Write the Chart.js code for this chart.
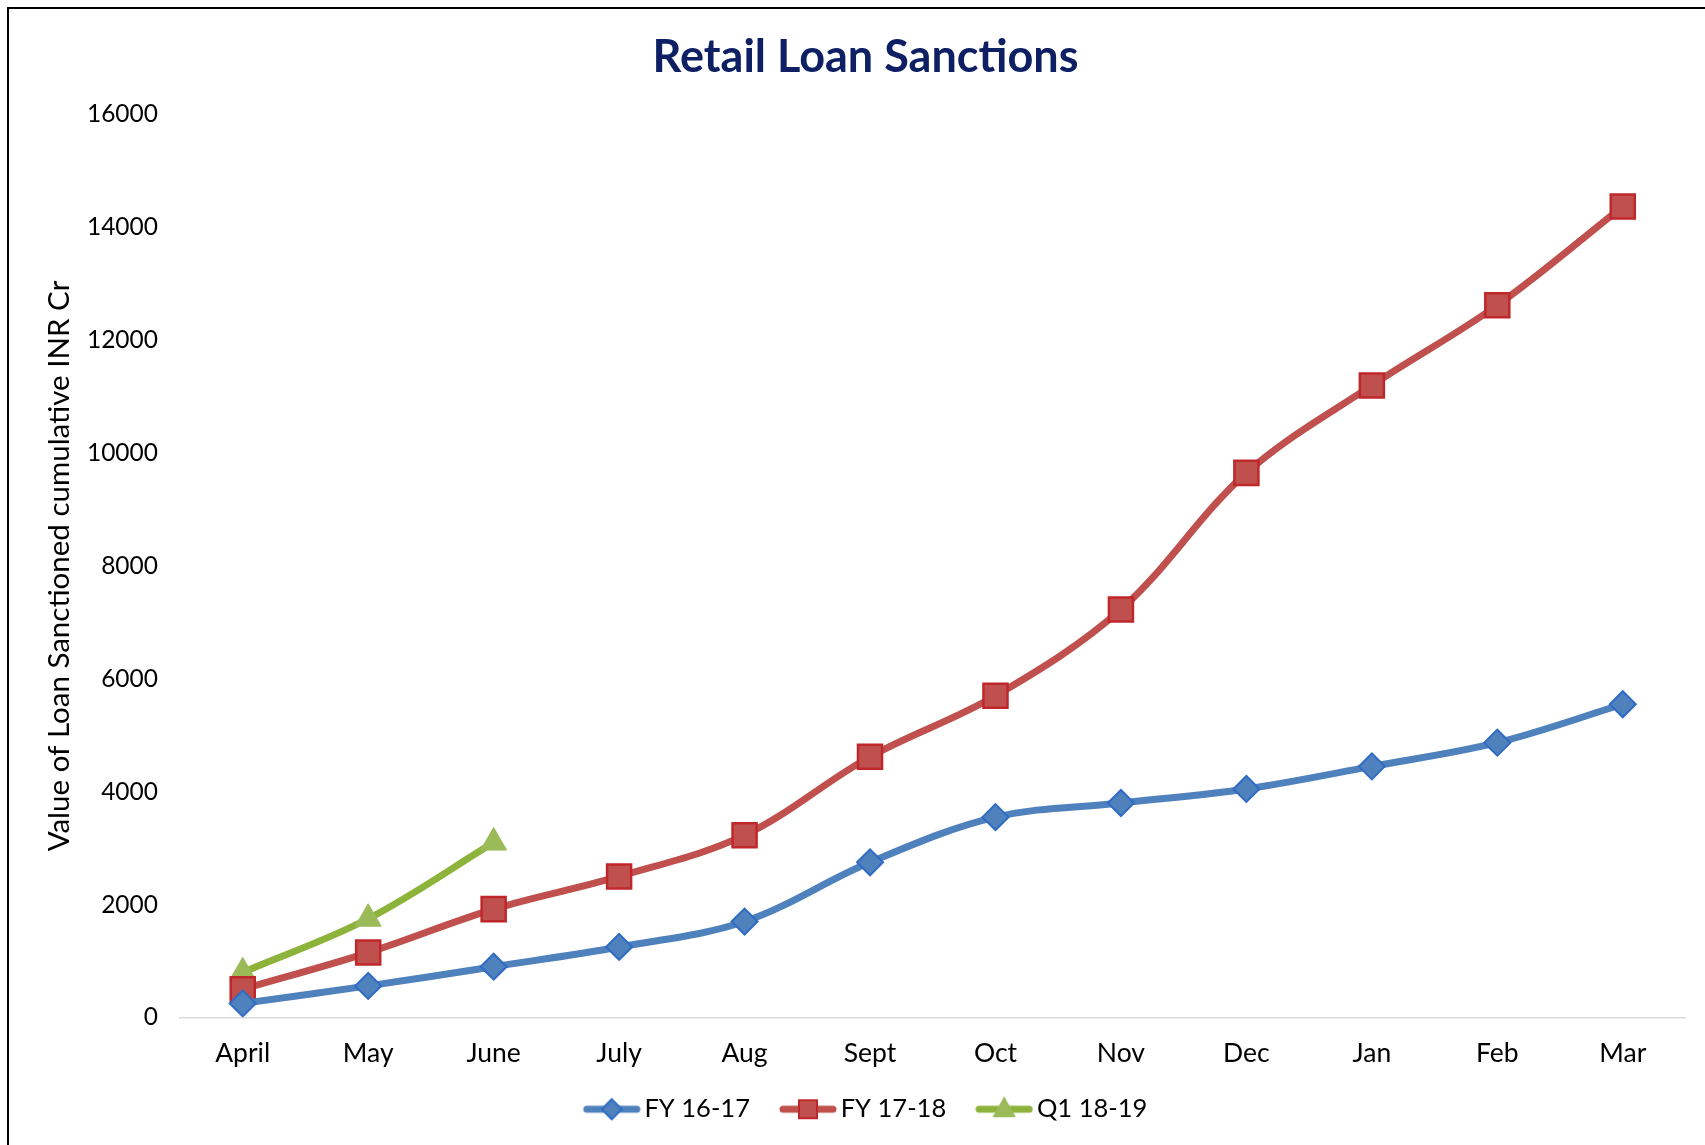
<!DOCTYPE html>
<html lang="en">
<head>
  <meta charset="UTF-8">
  <title>Retail Loan Sanctions</title>
  <script src="https://cdn.jsdelivr.net/npm/chart.js"></script>
  <style>
    html, body {
      margin: 0;
      padding: 0;
      background: #ffffff;
      overflow: hidden;
    }

    #wrap {
      width: 1705px;
      height: 1145px;
      position: relative;
    }
  </style>
</head>
<body>
  <div id="wrap">
    <canvas id="loanChart" width="1705" height="1145"></canvas>
  </div>

  <script>
    // data (INR Cr, cumulative)
    const months = ['April', 'May', 'June', 'July', 'Aug', 'Sept', 'Oct', 'Nov', 'Dec', 'Jan', 'Feb', 'Mar'];
    const fy1617 = [250, 560, 900, 1250, 1700, 2750, 3550, 3800, 4050, 4450, 4870, 5550];
    const fy1718 = [500, 1150, 1920, 2500, 3230, 4620, 5700, 7230, 9650, 11200, 12620, 14370];
    const q11819 = [800, 1750, 3100];
    const yTicks = [0, 2000, 4000, 6000, 8000, 10000, 12000, 14000, 16000];

    const fontFamily = 'Lato, "DejaVu Sans", sans-serif';

    // legend swatch: a short line with the marker on top, like Excel
    function legendSwatch(lineColor, fill, border, style, radius) {
      const c = document.createElement('canvas');
      c.width = 58;
      c.height = 30;
      const g = c.getContext('2d');
      g.strokeStyle = lineColor;
      g.lineWidth = 7;
      g.lineCap = 'round';
      g.beginPath();
      g.moveTo(4, 15);
      g.lineTo(54, 15);
      g.stroke();
      g.fillStyle = fill;
      g.strokeStyle = border;
      g.lineWidth = 2;
      g.beginPath();
      if (style === 'diamond') {
        g.moveTo(29, 15 - radius);
        g.lineTo(29 + radius, 15);
        g.lineTo(29, 15 + radius);
        g.lineTo(29 - radius, 15);
      } else if (style === 'square') {
        g.rect(29 - radius, 15 - radius, radius * 2, radius * 2);
      } else {
        g.moveTo(29, 15 - radius * 1.1);
        g.lineTo(29 + radius, 15 + radius * 0.7);
        g.lineTo(29 - radius, 15 + radius * 0.7);
      }
      g.closePath();
      g.fill();
      g.stroke();
      return c;
    }

    const swatches = [
      legendSwatch('#4F81BD', '#4F81BD', '#2F6BC4', 'diamond', 10),
      legendSwatch('#C0504D', '#C0504D', '#C0272B', 'square', 9),
      legendSwatch('#8DB33A', '#9BBB59', '#9BBB59', 'triangle', 10)
    ];

    // outer frame (left and top edges are visible in the reference)
    const framePlugin = {
      id: 'frame',
      afterLayout(chart) {
        // reference title and legend sit a little right of the canvas centre
        if (chart.titleBlock) {
          chart.titleBlock.left += 14;
          chart.titleBlock.right += 14;
        }
        if (chart.legend) {
          chart.legend.left += 18;
          chart.legend.right += 18;
          chart.legend.top -= 9;
          chart.legend.bottom -= 9;
        }
      },
      beforeDraw(chart) {
        const ctx = chart.ctx;
        ctx.save();
        ctx.strokeStyle = '#000000';
        ctx.lineWidth = 2;
        ctx.beginPath();
        ctx.moveTo(8, chart.height);
        ctx.lineTo(8, 8);
        ctx.lineTo(chart.width, 8);
        ctx.stroke();
        ctx.restore();
      }
    };

    const ctx = document.getElementById('loanChart').getContext('2d');
    new Chart(ctx, {
      type: 'line',
      data: {
        labels: months,
        datasets: [
          {
            label: 'FY 16-17',
            data: fy1617,
            borderColor: '#4F81BD',
            backgroundColor: '#4F81BD',
            pointBackgroundColor: '#4F81BD',
            pointBorderColor: '#2F6BC4',
            pointBorderWidth: 2,
            pointStyle: 'rectRot',
            pointRadius: 13,
            borderWidth: 7,
            tension: 0.35
          },
          {
            label: 'FY 17-18',
            data: fy1718,
            borderColor: '#C0504D',
            backgroundColor: '#C0504D',
            pointBackgroundColor: '#C0504D',
            pointBorderColor: '#C0272B',
            pointBorderWidth: 2.5,
            pointStyle: 'rect',
            pointRadius: 17,
            borderWidth: 7,
            tension: 0.35
          },
          {
            label: 'Q1 18-19',
            data: q11819,
            borderColor: '#8DB33A',
            backgroundColor: '#9BBB59',
            pointBackgroundColor: '#9BBB59',
            pointBorderColor: '#9BBB59',
            pointBorderWidth: 1,
            pointStyle: 'triangle',
            pointRadius: 15,
            borderWidth: 7,
            tension: 0.35
          }
        ]
      },
      options: {
        responsive: false,
        animation: false,
        layout: {
          padding: { left: 10, right: 12, top: 0, bottom: 4 }
        },
        plugins: {
          title: {
            display: true,
            text: 'Retail Loan Sanctions',
            color: '#0E2063',
            font: { family: fontFamily, size: 45, weight: 'bold' },
            padding: { top: 30, bottom: 30.5 }
          },
          legend: {
            position: 'bottom',
            labels: {
              usePointStyle: true,
              pointStyleWidth: 40,
              generateLabels(chart) {
                return chart.data.datasets.map((ds, i) => ({
                  text: ds.label,
                  pointStyle: swatches[i],
                  datasetIndex: i,
                  hidden: false,
                  fontColor: '#000000',
                  lineWidth: 0
                }));
              },
              color: '#000000',
              font: { family: fontFamily, size: 25.5 },
              padding: 38
            }
          },
          tooltip: { enabled: false }
        },
        scales: {
          x: {
            offset: true,
            grid: { display: false, drawTicks: false },
            border: { display: true, color: '#D9D9D9', width: 1.5 },
            ticks: {
              color: '#000000',
              font: { family: fontFamily, size: 26.5 },
              padding: 20
            },
            afterFit(scale) {
              scale.height = 50;
            }
          },
          y: {
            min: 0,
            max: 16000,
            grid: { display: false, drawTicks: false },
            border: { display: false },
            afterBuildTicks(scale) {
              scale.ticks = yTicks.map(v => ({ value: v }));
            },
            ticks: {
              color: '#000000',
              font: { family: fontFamily, size: 24.5 },
              padding: 22,
              callback: v => String(v)
            },
            title: {
              display: true,
              text: 'Value of Loan Sanctioned cumulative INR Cr',
              color: '#000000',
              font: { family: fontFamily, size: 29.5 },
              padding: { top: 32, bottom: 0 }
            },
            afterFit(scale) {
              scale.width = 170;
            }
          }
        }
      },
      plugins: [framePlugin]
    });
  </script>
</body>
</html>
